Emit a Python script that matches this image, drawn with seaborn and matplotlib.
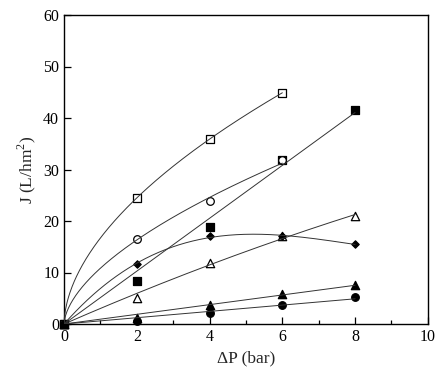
import numpy as np
import pandas as pd
import matplotlib
matplotlib.use("Agg")
import matplotlib.pyplot as plt
from matplotlib.ticker import MultipleLocator
import seaborn as sns

# pressure (bar)
dp4 = [0, 2, 4, 6]
dp5 = [0, 2, 4, 6, 8]

# flux J (L/hm2)
open_square = [0, 24.5, 35.9, 44.9]
open_circle = [0, 16.5, 23.9, 31.8]
filled_square = [0, 8.4, 18.9, 31.8, 41.6]
filled_diamond = [0, 11.6, 17.1, 17.0, 15.5]
open_triangle = [0, 5.1, 11.8, 17.0, 21.0]
filled_triangle = [0, 1.2, 3.7, 5.8, 7.6]
filled_circle = [0, 0.5, 2.1, 3.6, 5.3]


def power_fit(x, y):
    x, y = np.asarray(x[1:], float), np.asarray(y[1:], float)
    b, loga = np.polyfit(np.log(x), np.log(y), 1)
    return lambda t: np.exp(loga) * t ** b


def poly0_fit(x, y, deg):
    # polynomial through the origin
    x, y = np.asarray(x, float), np.asarray(y, float)
    A = np.column_stack([x ** k for k in range(1, deg + 1)])
    c = np.linalg.lstsq(A, y, rcond=None)[0]
    return lambda t: sum(ck * t ** (k + 1) for k, ck in enumerate(c))


series = [
    # x, y, marker, filled, fit, xmax
    (dp5, filled_square, "s", True, poly0_fit(dp5, filled_square, 1), 8),
    (dp4, open_square, "s", False, power_fit(dp4, open_square), 6),
    (dp4, open_circle, "o", False, power_fit(dp4, open_circle), 6),
    (dp5, open_triangle, "^", False, poly0_fit(dp5, open_triangle, 2), 8),
    (dp5, filled_diamond, "D", True, poly0_fit(dp5, filled_diamond, 3), 8),
    (dp5, filled_triangle, "^", True, poly0_fit(dp5, filled_triangle, 1), 8),
    (dp5, filled_circle, "o", True, poly0_fit(dp5, filled_circle, 1), 8),
]

sns.set_theme(style="ticks")
plt.rcParams["font.family"] = ["Liberation Serif", "DejaVu Serif"]
plt.rcParams["mathtext.fontset"] = "custom"
plt.rcParams["mathtext.rm"] = "Liberation Serif"

fig = plt.figure(figsize=(4.42, 3.75), dpi=100)
ax = fig.add_axes([0.145, 0.136, 0.823, 0.824])

for x, y, m, filled, f, xmax in series:
    size = {"s": 36, "o": 30, "D": 14, "^": 36}[m]
    sns.scatterplot(x=x, y=y, marker=m, s=size, ax=ax, zorder=3, clip_on=False,
                    color="black" if filled else "white",
                    edgecolor="black", linewidth=0.9)

for x, y, m, filled, f, xmax in series:
    t = np.linspace(0, xmax, 300)
    sns.lineplot(x=t, y=f(t), color="#333333", linewidth=0.7, ax=ax, zorder=4)

ax.set_xlim(0, 10)
ax.set_ylim(0, 60)
ax.xaxis.set_major_locator(MultipleLocator(2))
ax.xaxis.set_minor_locator(MultipleLocator(1))
ax.yaxis.set_major_locator(MultipleLocator(10))
ax.tick_params(which="both", direction="in", labelsize=11.5, colors="black")
ax.tick_params(which="major", length=5, width=0.9)
ax.tick_params(which="minor", length=3, width=0.9)
for s in ax.spines.values():
    s.set_linewidth(1.0)
    s.set_color("black")

ax.set_xlabel("ΔP (bar)", fontsize=12.5)
ax.set_ylabel("J (L/hm$^2$)", fontsize=12.5)

fig.savefig("out.png", dpi=100)
